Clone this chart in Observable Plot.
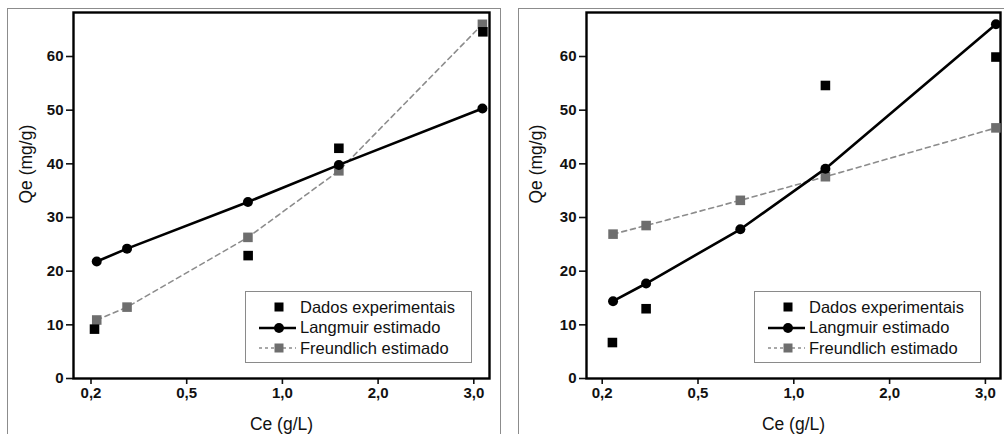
<!DOCTYPE html>
<html>
<head>
<meta charset="utf-8">
<script src="https://cdn.jsdelivr.net/npm/d3@7"></script>
<script src="https://cdn.jsdelivr.net/npm/@observablehq/plot@0.6"></script>
<style>
  body { margin: 0; background: #fff; font-family: "Liberation Sans", Arial, sans-serif; }
  #page { position: relative; width: 1004px; height: 434px; overflow: hidden; background: #fff; }
  .panel { position: absolute; top: 0; }
  .frame { position: absolute; border: 1.5px solid #8c8c8c; border-bottom: none; pointer-events: none; box-sizing: border-box; }
  .legend { position: absolute; border: 1.5px solid #8a8a8a; background: #fff; box-sizing: border-box; padding-top: 5px; }
  .row { height: 20.5px; display: flex; align-items: center; font-size: 16.5px; color: #111; white-space: nowrap; }
  .row svg { width: 54px; height: 20px; flex: none; display: block; }
</style>
</head>
<body>
<div id="page">
  <div class="frame" style="left:7px;top:8px;width:494px;height:440px;"></div>
  <div class="frame" style="left:518px;top:8px;width:500px;height:440px;"></div>
  <div id="left" class="panel" style="left:0px;"></div>
  <div id="right" class="panel" style="left:500px;"></div>
</div>
<script>
// ---- data ----
const xTicks = [0.2, 0.5, 1, 2, 3];
const yTicks = [0, 10, 20, 30, 40, 50, 60];
const seriesNames = ["Dados experimentais", "Langmuir estimado", "Freundlich estimado"];
const xLabel = "Ce (g/L)";
const yLabel = "Qe (mg/g)";

// left panel
const leftModelCe = [0.218, 0.313, 0.82, 1.59, 3.09];
const leftLangmuir = [21.8, 24.2, 32.9, 39.8, 50.3];
const leftFreundlich = [10.9, 13.3, 26.3, 38.7, 66.0];
const leftExpCe = [0.211, 0.821, 1.59, 3.095];
const leftExp = [9.2, 22.9, 42.9, 64.6];

// right panel
const rightModelCe = [0.234, 0.3375, 0.721, 1.33, 3.11];
const rightLangmuir = [14.4, 17.7, 27.8, 39.1, 66.0];
const rightFreundlich = [26.9, 28.5, 33.2, 37.6, 46.7];
const rightExpCe = [0.232, 0.3375, 1.33, 3.11];
const rightExp = [6.7, 13.0, 54.6, 59.9];

const fmt = d => d.toFixed(1).replace(".", ",");

function panel(o) {
  const lan = o.modelCe.map((x, i) => ({x, y: o.lang[i]}));
  const fre = o.modelCe.map((x, i) => ({x, y: o.freu[i]}));
  const exp = o.expCe.map((x, i) => ({x, y: o.exp[i]}));
  return Plot.plot({
    width: o.width,
    height: 434,
    marginLeft: o.marginLeft,
    marginRight: o.marginRight,
    marginTop: 12,
    marginBottom: 56,
    style: {background: "transparent", fontFamily: "Liberation Sans, Arial, sans-serif", fontSize: "15px", color: "#111", overflow: "visible"},
    x: {type: "linear", domain: xTicks, range: xTicks.map((d, i) => o.tickStart + i * o.tickStep), axis: null},
    y: {domain: [0, 68.2], axis: null},
    marks: [
      Plot.axisX({ticks: xTicks, tickFormat: fmt, tickSize: 6, tickPadding: 3, strokeWidth: 1.6, label: null, fontWeight: "bold", fontSize: 15}),
      Plot.axisY({ticks: yTicks, tickSize: 7, tickPadding: 3, strokeWidth: 1.6, label: null, fontWeight: "bold", fontSize: 15}),
      Plot.frame({stroke: "#000", strokeWidth: 2.4}),
      Plot.line(fre, {x: "x", y: "y", stroke: "#8c8c8c", strokeWidth: 1.6, strokeDasharray: "5,4"}),
      Plot.dot(fre, {x: "x", y: "y", symbol: "square", r: 5.4, fill: "#6e6e6e", stroke: "none"}),
      Plot.line(lan, {x: "x", y: "y", stroke: "#000", strokeWidth: 2.6}),
      Plot.dot(lan, {x: "x", y: "y", r: 5, fill: "#000", stroke: "none"}),
      Plot.dot(exp, {x: "x", y: "y", symbol: "square", r: 5.4, fill: "#000", stroke: "none"}),
      Plot.text([yLabel], {text: d => d, frameAnchor: "left", dx: o.yLabelDx, dy: 8, rotate: -90, fontSize: 17.5, fill: "#111"}),
      Plot.text([xLabel], {text: d => d, frameAnchor: "bottom", dx: 0, dy: 46, lineAnchor: "middle", fontSize: 17.5, fill: "#111"})
    ]
  });
}

function legend(left) {
  const div = document.createElement("div");
  div.className = "legend";
  Object.assign(div.style, {left: left + "px", top: "291px", width: "227px", height: "72px"});
  const syms = [
    `<rect x="28.5" y="5.5" width="9" height="9" fill="#000"/>`,
    `<line x1="13" y1="10" x2="50" y2="10" stroke="#000" stroke-width="2.6"/><circle cx="33" cy="10" r="5" fill="#000"/>`,
    `<line x1="13" y1="10" x2="50" y2="10" stroke="#8c8c8c" stroke-width="1.6" stroke-dasharray="3,3"/><rect x="28.5" y="5.5" width="9" height="9" fill="#6e6e6e"/>`
  ];
  seriesNames.forEach((name, i) => {
    const row = document.createElement("div");
    row.className = "row";
    row.innerHTML = `<svg width="54" height="20" viewBox="0 0 54 20">${syms[i]}</svg><span>${name}</span>`;
    div.appendChild(row);
  });
  document.getElementById("page").appendChild(div);
}

document.getElementById("left").appendChild(panel({
  width: 500, marginLeft: 73, marginRight: 11, tickStart: 90.5, tickStep: 95.7, yLabelDx: -47,
  modelCe: leftModelCe, lang: leftLangmuir, freu: leftFreundlich, expCe: leftExpCe, exp: leftExp
}));
document.getElementById("right").appendChild(panel({
  width: 504, marginLeft: 86, marginRight: 4, tickStart: 101.7, tickStep: 95.8, yLabelDx: -50.5,
  modelCe: rightModelCe, lang: rightLangmuir, freu: rightFreundlich, expCe: rightExpCe, exp: rightExp
}));
legend(245);
legend(754);
</script>
</body>
</html>
